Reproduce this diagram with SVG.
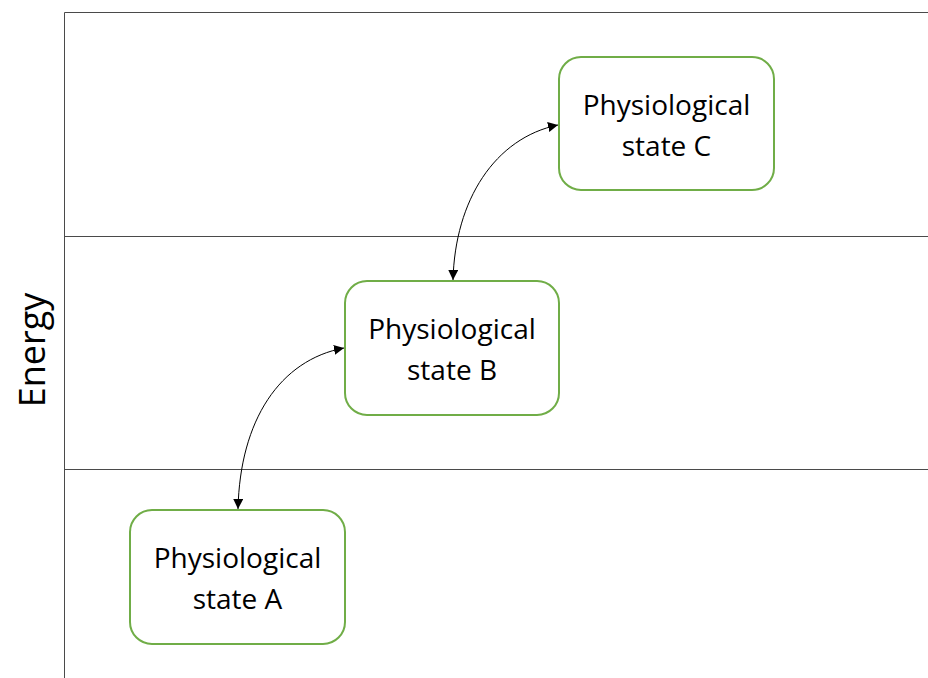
<svg xmlns="http://www.w3.org/2000/svg" width="928" height="678" viewBox="0 0 928 678">
<style>
.grid{stroke:#4a4a4a;stroke-width:1;fill:none}
.box{fill:#fff;stroke:#70AD47;stroke-width:2}
.lbl{font-family:"Open Sans","Liberation Sans",sans-serif;font-size:28px;fill:#000;text-anchor:middle}
.conn{fill:none;stroke:#000;stroke-width:1;marker-start:url(#ah);marker-end:url(#ah)}
</style>
<defs>
<marker id="ah" viewBox="0 0 10 10" refX="10" refY="5" markerWidth="10" markerHeight="10" markerUnits="userSpaceOnUse" orient="auto-start-reverse">
<path d="M0,0 L10,5 L0,10 z" fill="#000"/>
</marker>
</defs>
<g id="axes">
<line class="grid" x1="64.5" y1="12.5" x2="64.5" y2="678"/>
<line class="grid" x1="64.5" y1="12.5" x2="928" y2="12.5"/>
<line class="grid" x1="64.5" y1="236.5" x2="928" y2="236.5"/>
<line class="grid" x1="64.5" y1="469.5" x2="928" y2="469.5"/>
</g>
<text id="energy" transform="translate(45,350) rotate(-90)" style="font-family:'Open Sans','Liberation Sans',sans-serif;font-size:36px;fill:#000;text-anchor:middle">Energy</text>
<g id="nodeC">
<rect class="box" x="559" y="57" width="215" height="133" rx="22"/>
<text class="lbl" x="666.5" y="115">Physiological</text>
<text class="lbl" x="666.5" y="156">state C</text>
</g>
<g id="nodeB">
<rect class="box" x="345" y="281" width="214" height="134" rx="22"/>
<text class="lbl" x="452" y="339">Physiological</text>
<text class="lbl" x="452" y="380">state B</text>
</g>
<g id="nodeA">
<rect class="box" x="130" y="510" width="215" height="134" rx="22"/>
<text class="lbl" x="237.5" y="568">Physiological</text>
<text class="lbl" x="237.5" y="609">state A</text>
</g>
<g id="connectors">
<path class="conn" d="M238,509 C240,420 280,360 344,348"/>
<path class="conn" d="M453,280 C455,200 495,138 558,125"/>
</g>
</svg>
